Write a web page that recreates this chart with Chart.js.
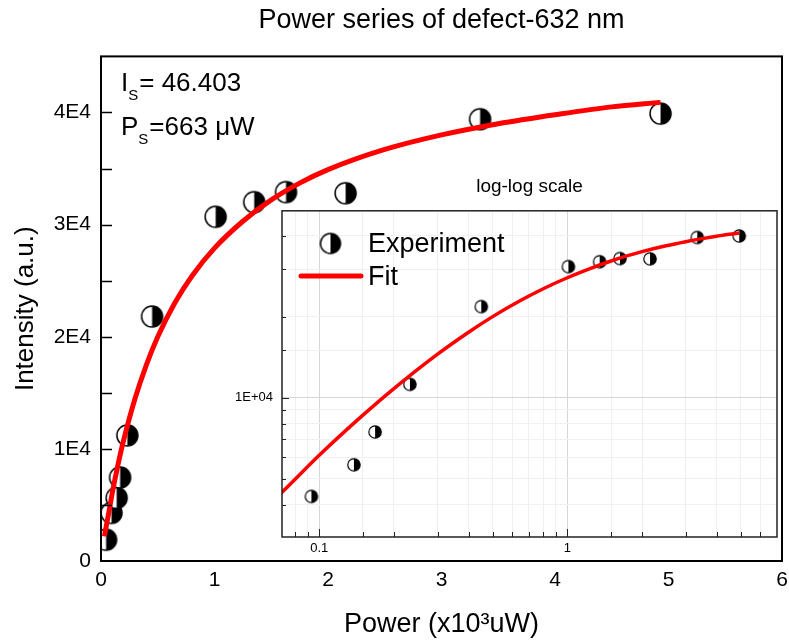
<!DOCTYPE html>
<html>
<head>
<meta charset="utf-8">
<script src="https://cdn.jsdelivr.net/npm/chart.js@4.4.0/dist/chart.umd.min.js"></script>
<style>
  body { margin: 0; background: #fff; }
  #wrap { position: relative; width: 789px; height: 644px; }
  canvas { position: absolute; }
  #main { left: 0; top: 0; }
  #inset { left: 200px; top: 170px; }
</style>
</head>
<body>
<div id="wrap">
  <canvas id="main" width="789" height="644"></canvas>
  <canvas id="inset" width="589" height="400"></canvas>
</div>
<script>
// measured points (power in 10^3 uW, intensity a.u.)
const power = [0.045, 0.093, 0.138, 0.168, 0.232, 0.45, 1.01, 1.35, 1.63, 2.155, 3.34, 4.93];
const intensity = [1900, 4290, 5625, 7450, 11200, 21800, 30700, 32000, 32900, 32800, 39400, 39900];

// fit curve
const fitPower = [0.03, 0.07, 0.1, 0.15, 0.2, 0.3, 0.4, 0.5, 0.65, 0.8, 1.0, 1.25, 1.5, 1.75, 2.0, 2.5, 3.0, 3.5, 4.0, 4.5, 4.93];
const fitIntensity = [2200, 4400, 6100, 8600, 10800, 14500, 17500, 20000, 23000, 25400, 27900, 30300, 32200, 33700, 34900, 36700, 38000, 39000, 39800, 40500, 40900];

const xTicks = [0, 1, 2, 3, 4, 5, 6];
const yTickLabels = ['0', '1E4', '2E4', '3E4', '4E4'];

const FONT = '"Liberation Sans", Arial, sans-serif';
Chart.defaults.font.family = FONT;
Chart.defaults.color = '#000';

// half white / half black circle marker
function halfDot(r, lw) {
    const c = document.createElement('canvas');
    const s = Math.ceil(2 * r + lw + 2);
    c.width = c.height = s;
    const g = c.getContext('2d');
    const m = s / 2;
    g.beginPath(); g.arc(m, m, r, 0, Math.PI * 2); g.fillStyle = '#fff'; g.fill();
    g.beginPath(); g.moveTo(m, m - r); g.arc(m, m, r, -Math.PI / 2, Math.PI / 2); g.closePath();
    g.fillStyle = '#000'; g.fill();
    g.beginPath(); g.arc(m, m, r, 0, Math.PI * 2); g.lineWidth = lw; g.strokeStyle = '#000'; g.stroke();
    return c;
}

const toXY = (xs, ys) => xs.map((x, i) => ({ x, y: ys[i] }));
const isDecade = v => Math.abs(Math.log10(v) - Math.round(Math.log10(v))) < 1e-6;
const noPad = s => { s.paddingLeft = 0; s.paddingRight = 0; s.paddingTop = 0; s.paddingBottom = 0; };

function subText(ctx, x, y, head, sub, tail) {
    ctx.font = '26px ' + FONT;
    ctx.fillText(head, x, y);
    x += ctx.measureText(head).width;
    ctx.font = '15px ' + FONT;
    ctx.fillText(sub, x, y + 9);
    x += ctx.measureText(sub).width + 1;
    ctx.font = '26px ' + FONT;
    ctx.fillText(tail, x, y);
}

const mainDecor = {
    id: 'mainDecor',
    afterDraw(chart) {
        const { ctx, chartArea: a, scales: { y } } = chart;
        ctx.save();
        ctx.strokeStyle = '#000';
        ctx.lineWidth = 1.5;
        y.ticks.forEach(t => {
            if (t.value <= y.min || t.value >= y.max) return;
            const py = Math.round(y.getPixelForValue(t.value)) + 0.5;
            ctx.beginPath(); ctx.moveTo(a.left, py); ctx.lineTo(a.left + 11, py); ctx.stroke();
        });
        ctx.lineWidth = 2;
        ctx.strokeRect(a.left, a.top, a.right - a.left, a.bottom - a.top);

        ctx.fillStyle = '#000';
        ctx.textBaseline = 'alphabetic';
        subText(ctx, a.left + 20, 91, 'I', 'S', '= 46.403');
        subText(ctx, a.left + 20, 135, 'P', 'S', '=663 \u03bcW');
        ctx.restore();
    }
};

const insetDecor = {
    id: 'insetDecor',
    beforeDraw(chart) {
        const { ctx, chartArea: a } = chart;
        ctx.save();
        ctx.fillStyle = '#fff';
        ctx.fillRect(a.left, a.top, a.right - a.left, a.bottom - a.top);
        ctx.restore();
    },
    afterDraw(chart) {
        const { ctx, chartArea: a, scales: { x, y } } = chart;
        ctx.save();
        ctx.strokeStyle = '#222';
        ctx.lineWidth = 1;
        y.ticks.forEach(t => {
            const py = y.getPixelForValue(t.value);
            if (py < a.top + 2 || py > a.bottom - 2) return;
            const len = isDecade(t.value) ? 7 : 4;
            ctx.beginPath(); ctx.moveTo(a.left, Math.round(py) + 0.5); ctx.lineTo(a.left + len, Math.round(py) + 0.5); ctx.stroke();
        });
        x.ticks.forEach(t => {
            const px = x.getPixelForValue(t.value);
            if (px < a.left + 2 || px > a.right - 2) return;
            const len = isDecade(t.value) ? 8 : 5;
            ctx.beginPath(); ctx.moveTo(Math.round(px) + 0.5, a.bottom); ctx.lineTo(Math.round(px) + 0.5, a.bottom - len); ctx.stroke();
        });
        ctx.lineWidth = 1.5;
        ctx.strokeRect(a.left, a.top, a.right - a.left, a.bottom - a.top);

        // legend
        const ds = chart.data.datasets;
        ctx.drawImage(legendDot, 130.5 - legendDot.width / 2, 73.5 - legendDot.height / 2);
        ctx.strokeStyle = '#ff0000';
        ctx.lineWidth = 5;
        ctx.lineCap = 'round';
        ctx.beginPath(); ctx.moveTo(101, 106); ctx.lineTo(161, 106); ctx.stroke();
        ctx.fillStyle = '#000';
        ctx.font = '27px ' + FONT;
        ctx.textBaseline = 'alphabetic';
        ctx.fillText(ds[1].label, 168, 82);
        ctx.fillText(ds[0].label, 168, 115);
        ctx.restore();
    }
};

const bigDot = halfDot(10.5, 1.5);
const smallDot = halfDot(6.2, 1.2);
const legendDot = halfDot(10, 1.5);

new Chart(document.getElementById('main'), {
    type: 'scatter',
    data: {
        datasets: [
            {
                label: 'Fit',
                data: toXY(fitPower, fitIntensity),
                showLine: true,
                borderColor: '#ff0000',
                borderWidth: 5,
                pointRadius: 0,
                cubicInterpolationMode: 'monotone',
                order: 0
            },
            {
                label: 'Experiment',
                data: toXY(power, intensity),
                pointStyle: bigDot,
                pointRadius: 11,
                order: 1
            }
        ]
    },
    options: {
        responsive: false,
        animation: false,
        events: [],
        layout: { autoPadding: false, padding: { left: 0, right: 7, top: 0, bottom: 0 } },
        plugins: {
            legend: { display: false },
            tooltip: { enabled: false },
            title: {
                display: true,
                text: 'Power series of defect-632 nm',
                fullSize: false,
                font: { size: 27, weight: 'normal' },
                padding: { top: 4, bottom: 20 }
            }
        },
        scales: {
            x: {
                type: 'linear',
                min: 0, max: 6,
                afterFit: s => { s.height = 83; noPad(s); },
                afterBuildTicks: s => { s.ticks = xTicks.map(v => ({ value: v })); },
                ticks: { font: { size: 21 }, padding: 7, maxRotation: 0, callback: v => String(v) },
                grid: { display: false, drawTicks: false },
                border: { display: false },
                title: {
                    display: true,
                    text: 'Power (x10\u00b3uW)',
                    font: { size: 27 },
                    padding: { top: 0, bottom: 3 }
                }
            },
            y: {
                type: 'linear',
                min: 0, max: 45000,
                afterFit: s => { s.width = 101; noPad(s); },
                ticks: {
                    stepSize: 5000,
                    font: { size: 21 },
                    padding: 10,
                    autoSkip: false,
                    callback: v => (v % 10000 === 0 ? yTickLabels[v / 10000] || '' : '')
                },
                grid: { display: false, drawTicks: false },
                border: { display: false },
                title: {
                    display: true,
                    text: 'Intensity (a.u.)',
                    font: { size: 26 },
                    padding: { top: 10, bottom: 0 }
                }
            }
        }
    },
    plugins: [mainDecor]
});

const gridColor = c => {
    const v = c.tick && c.tick.value;
    const s = c.scale;
    if (!v || v <= s.min * 1.001 || v >= s.max * 0.999) return 'rgba(0,0,0,0)';
    return isDecade(v) ? '#d6d6d6' : '#f0f0f0';
};

new Chart(document.getElementById('inset'), {
    type: 'scatter',
    data: {
        datasets: [
            {
                label: 'Fit',
                data: toXY(fitPower, fitIntensity),
                showLine: true,
                borderColor: '#ff0000',
                borderWidth: 3.5,
                pointRadius: 0,
                cubicInterpolationMode: 'monotone',
                order: 0
            },
            {
                label: 'Experiment',
                data: toXY(power, intensity),
                pointStyle: smallDot,
                pointRadius: 7,
                order: 1
            }
        ]
    },
    options: {
        responsive: false,
        animation: false,
        events: [],
        layout: { autoPadding: false, padding: { left: 0, right: 12, top: 0, bottom: 0 } },
        plugins: {
            legend: { display: false },
            tooltip: { enabled: false },
            title: {
                display: true,
                text: 'log-log scale',
                fullSize: false,
                font: { size: 19, weight: 'normal' },
                padding: { top: 5, bottom: 13 }
            }
        },
        scales: {
            x: {
                type: 'logarithmic',
                min: 0.0708, max: 7.0,
                afterFit: s => { s.height = 33; noPad(s); },
                ticks: {
                    font: { size: 13 },
                    padding: 4,
                    autoSkip: false,
                    maxRotation: 0,
                    callback: v => (isDecade(v) ? (v < 1 ? v.toFixed(1) : String(Math.round(v))) : '')
                },
                grid: { color: gridColor, drawTicks: false, lineWidth: 1 },
                border: { display: false }
            },
            y: {
                type: 'logarithmic',
                min: 3030, max: 49500,
                afterFit: s => { s.width = 82; noPad(s); },
                ticks: {
                    font: { size: 13 },
                    padding: 9,
                    autoSkip: false,
                    callback: v => (isDecade(v) ? '1E+0' + Math.round(Math.log10(v)) : '')
                },
                grid: { color: gridColor, drawTicks: false, lineWidth: 1 },
                border: { display: false }
            }
        }
    },
    plugins: [insetDecor]
});
</script>
</body>
</html>
